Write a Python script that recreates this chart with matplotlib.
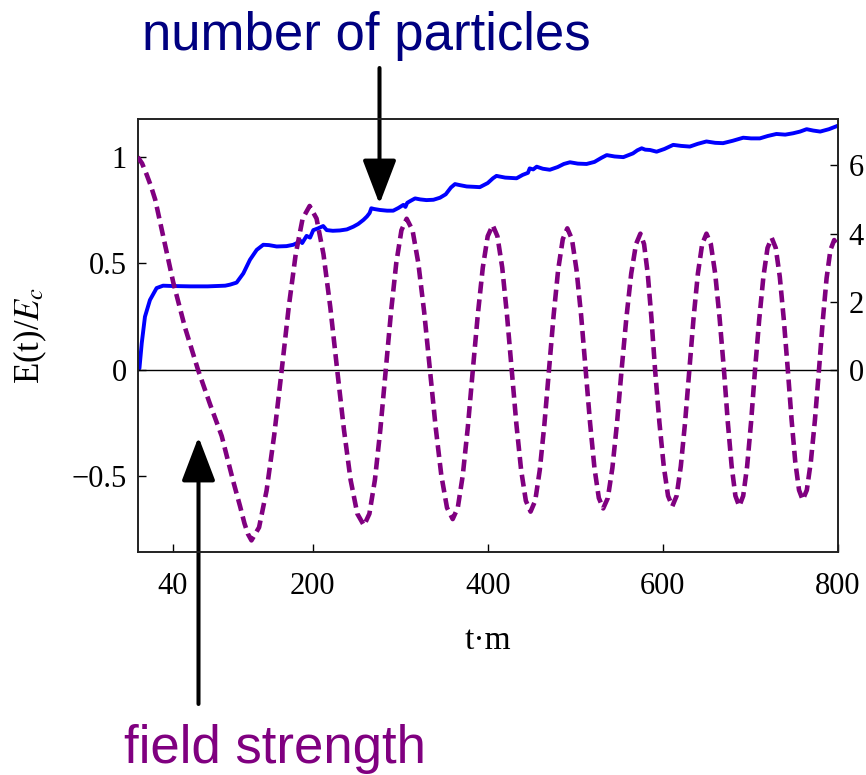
import matplotlib
matplotlib.use("Agg")
import matplotlib.pyplot as plt

# ---------------- data ----------------
# number of particles (right axis)
t_particles = [0, 2, 4.6, 8.3, 14, 21.6, 29, 40, 60, 80, 100, 105.5, 113, 120.7,
               128.3, 136, 143.5, 150, 158.8, 170, 177.8, 182, 185.5, 188, 193,
               197, 200.7, 206, 212, 216, 223, 231, 239, 246.4, 252, 258, 262,
               265, 267, 270, 277, 285, 292, 298, 303.6, 306, 308, 312, 317, 323,
               330, 338, 345.5, 352, 358, 362.6, 368, 376, 384, 391, 400, 406,
               410, 420, 433, 440, 446, 448, 452, 456, 463, 471, 480, 487, 494,
               503, 513, 522, 530, 536, 545, 555, 566, 571, 576, 580, 585.5, 593,
               602, 612, 621, 631, 640, 650, 660, 669, 680, 692, 701, 711, 720,
               730, 740, 749, 757, 764.5, 772, 780, 790, 800]
n_particles = [0.0, 0.05, 0.78, 1.56, 2.05, 2.40, 2.47, 2.46, 2.45, 2.45, 2.47,
               2.50, 2.56, 2.83, 3.23, 3.52, 3.67, 3.66, 3.62, 3.63, 3.67, 3.72,
               3.80, 3.72, 3.93, 3.88, 4.10, 4.15, 4.22, 4.10, 4.08, 4.09, 4.12,
               4.20, 4.28, 4.40, 4.50, 4.60, 4.74, 4.72, 4.69, 4.67, 4.67, 4.75,
               4.84, 4.78, 4.90, 4.96, 5.03, 5.00, 4.98, 4.99, 5.05, 5.15, 5.35,
               5.45, 5.42, 5.38, 5.37, 5.36, 5.48, 5.62, 5.69, 5.64, 5.62, 5.72,
               5.78, 5.91, 5.88, 5.96, 5.90, 5.87, 5.95, 6.04, 6.09, 6.05, 6.04,
               6.10, 6.22, 6.30, 6.26, 6.24, 6.35, 6.44, 6.50, 6.46, 6.45, 6.40,
               6.48, 6.60, 6.57, 6.55, 6.63, 6.70, 6.66, 6.65, 6.72, 6.81, 6.79,
               6.79, 6.86, 6.92, 6.90, 6.94, 6.99, 7.06, 7.02, 6.99, 7.06, 7.16]

# field strength E(t)/E_c (left axis)
t_field = [0, 5, 10, 15, 20, 29, 40.7, 54, 69, 82.6, 96, 109, 117, 122, 126, 130,
           138.7, 147.3, 156, 164.6,
           172.6, 180.6, 188.5, 196.5,
           204.4, 212.3, 220.1, 228,
           235.7, 243.3, 251, 258.6,
           264.8, 271.1, 277.3, 283.5,
           289.5, 295.5, 301.4, 307.4,
           314.1, 320.7, 327.4, 334,
           340.5, 347, 353.5, 360,
           365.8, 371.5, 377.3, 383,
           388.7, 394.4, 400, 405.7,
           411.1, 416.6, 422, 427.4,
           432.8, 438.2, 443.6, 449,
           454.3, 459.5, 464.8, 470,
           475.3, 480.5, 485.8, 491,
           496.3, 501.5, 506.8, 512,
           517, 522, 527, 532,
           537.3, 542.5, 547.8, 553,
           558.5, 564, 569.5, 574.5,
           578.7, 582.9, 587.1, 591.3,
           596.2, 601.2, 606.1, 611,
           615.9, 620.7, 625.6, 630.4,
           635.3, 640.2, 645.1, 650,
           655, 660, 665, 670,
           674.4, 678.8, 683.1, 687.5,
           692, 696.5, 701, 705.5,
           710.3, 715.1, 719.8, 724.6,
           729.2, 733.8, 738.4, 743,
           747.3, 751.5, 755.8, 760,
           764.7, 769.3, 774, 778.6,
           783, 787.3, 791.7, 796, 800]
e_field = [1.00, 0.97, 0.92, 0.865, 0.80, 0.63, 0.41, 0.20, 0.0, -0.16, -0.31,
           -0.52, -0.64, -0.72, -0.77, -0.80,
           -0.739, -0.566, -0.306, 0.0,
           0.295, 0.544, 0.711, 0.77,
           0.711, 0.544, 0.295, 0.0,
           -0.280, -0.516, -0.675, -0.73,
           -0.675, -0.516, -0.280, 0.0,
           0.272, 0.502, 0.656, 0.71,
           0.656, 0.502, 0.272, 0.0,
           -0.268, -0.495, -0.647, -0.70,
           -0.647, -0.495, -0.268, 0.0,
           0.260, 0.481, 0.628, 0.68,
           0.628, 0.481, 0.260, 0.0,
           -0.255, -0.470, -0.614, -0.665,
           -0.614, -0.470, -0.255, 0.0,
           0.255, 0.470, 0.614, 0.665,
           0.614, 0.470, 0.255, 0.0,
           -0.249, -0.460, -0.601, -0.65,
           -0.601, -0.460, -0.249, 0.0,
           0.245, 0.452, 0.591, 0.64,
           0.591, 0.452, 0.245, 0.0,
           -0.245, -0.452, -0.591, -0.64,
           -0.591, -0.452, -0.245, 0.0,
           0.245, 0.452, 0.591, 0.64,
           0.591, 0.452, 0.245, 0.0,
           -0.245, -0.452, -0.591, -0.64,
           -0.591, -0.452, -0.245, 0.0,
           0.237, 0.438, 0.573, 0.62,
           0.573, 0.438, 0.237, 0.0,
           -0.234, -0.431, -0.564, -0.61,
           -0.564, -0.431, -0.234, 0.0,
           0.234, 0.431, 0.564, 0.61, 0.58]

x_ticks = [40, 200, 400, 600, 800]
x_ticklabels = ["40", "200", "400", "600", "800"]
left_ticks = [-0.5, 0, 0.5, 1]
left_ticklabels = ["\u22120.5", "0", "0.5", "1"]
right_ticks = [0, 2, 4, 6]
right_ticklabels = ["0", "2", "4", "6"]

# ---------------- figure ----------------
W, H = 866, 775
fig = plt.figure(figsize=(W / 100, H / 100), dpi=100)
plt.rcParams["mathtext.fontset"] = "stix"
serif = ["Liberation Serif", "DejaVu Serif"]
sans = ["Liberation Sans", "DejaVu Sans"]

left, right, top, bottom = 137.7, 837.7, 119.3, 552.3
ax = fig.add_axes([left / W, 1 - bottom / H, (right - left) / W, (bottom - top) / H])
ax2 = ax.twinx()

ax.set_xlim(0, 800)
ax.set_ylim(-0.856, 1.177)
ax2.set_ylim(-5.35, 7.35)

ax.axhline(0, color="black", lw=1.0, zorder=1)

ax2.plot(t_particles, n_particles, color="#0000FF", lw=2.8, solid_joinstyle="round")
ax.plot(t_field, e_field, color="#800080", lw=3.3, linestyle=(0, (2.6, 1.3)),
        dash_capstyle="butt", zorder=3)

ax.set_zorder(ax2.get_zorder() + 1)
ax.patch.set_visible(False)

ax.set_xticks(x_ticks)
ax.set_xticklabels(x_ticklabels, fontfamily=serif, fontsize=22)
ax.set_yticks(left_ticks)
ax.set_yticklabels(left_ticklabels, fontfamily=serif, fontsize=22)
ax2.set_yticks(right_ticks)
ax2.set_yticklabels(right_ticklabels, fontfamily=serif, fontsize=22)

ax.tick_params(axis="x", direction="in", length=6, width=1, pad=14, top=False)
ax.tick_params(axis="y", direction="in", length=6, width=1, pad=8, right=False)
ax2.tick_params(axis="y", direction="in", length=6, width=1, pad=8)

for a in (ax, ax2):
    for s in a.spines.values():
        s.set_linewidth(1.2)
        s.set_color("#222222")

ax.set_xlabel("t\u00b7m", fontfamily=serif, fontsize=24, labelpad=18)
ax.set_ylabel(r"E(t)/$E_c$", fontfamily=serif, fontsize=25, labelpad=16)

# ---------------- annotations ----------------
fig.text(366 / W, 1 - 50 / H, "number of particles", color="#000080",
         fontfamily=sans, fontsize=38, ha="center", va="baseline")
fig.text(275 / W, 1 - 763 / H, "field strength", color="#800080",
         fontfamily=sans, fontsize=38, ha="center", va="baseline")

arrow_kw = dict(arrowstyle="-|>,head_length=0.68,head_width=0.26",
                mutation_scale=40, color="black", lw=2.9,
                shrinkA=0, shrinkB=0)
fig.add_artist(matplotlib.patches.FancyArrowPatch(
    (379.5 / W, 1 - 68 / H), (379.5 / W, 1 - 204 / H),
    transform=fig.transFigure, **arrow_kw))
fig.add_artist(matplotlib.patches.FancyArrowPatch(
    (198.5 / W, 1 - 704 / H), (198.5 / W, 1 - 437 / H),
    transform=fig.transFigure, **arrow_kw))

fig.savefig("out.png", dpi=100, facecolor="white")
